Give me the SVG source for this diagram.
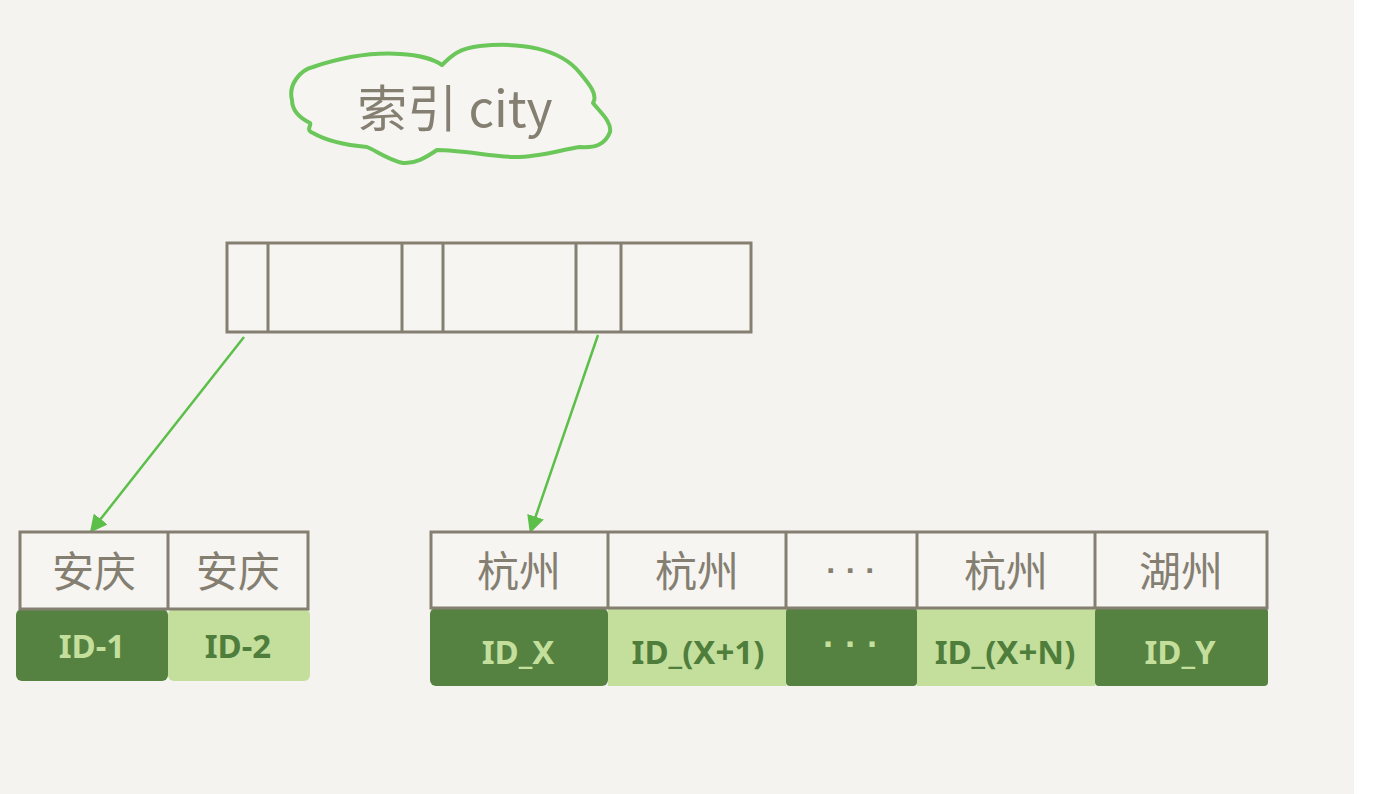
<svg xmlns="http://www.w3.org/2000/svg" width="1374" height="794" viewBox="0 0 1374 794">
<style>
.cell{fill:#f6f5f1;stroke:#857f72;stroke-width:3}
.div{stroke:#857f72;stroke-width:3}
.city{font-family:"Noto Sans CJK SC","Noto Sans",sans-serif;font-size:42px;fill:#857f72;text-anchor:middle}
.id{font-family:"Noto Sans","Liberation Sans",sans-serif;font-weight:bold;font-size:33px;text-anchor:middle}
.dots{font-family:"Liberation Sans",sans-serif;text-anchor:middle;font-weight:bold}
.dk{fill:#558241}
.lt{fill:#c4df9c}
.tdk{fill:#c4df9c}
.tlt{fill:#4f7d3c}
.conn{stroke:#5cbf4a;stroke-width:2.5;fill:none}
</style>
<defs>
<marker id="ah" viewBox="0 0 10 10" refX="8" refY="5" markerWidth="7" markerHeight="7" orient="auto" markerUnits="strokeWidth">
<path d="M0,0 L10,5 L0,10 z" fill="#5cbf4a"/>
</marker>
</defs>
<rect x="0" y="0" width="1354" height="794" fill="#f4f3ef"/>
<rect x="1354" y="0" width="20" height="794" fill="#ffffff"/>

<g id="cloud">
<path d="M292,100 C288,85 300,70 313,67 C340,58 370,52 400,54 C420,55 435,60 442,65 C452,55 460,48 480,46 C520,42 560,48 580,73 C590,85 598,95 593,103 C600,112 612,122 610,132 C605,145 595,148 580,147 C560,150 535,158 513,157 C490,156 460,150 437,150 C425,158 415,164 403,163 C388,160 375,150 367,147 C345,145 325,140 313,133 C305,130 312,125 310,123 C300,118 292,110 292,100 Z" fill="#f6f5f1" stroke="#6cc75a" stroke-width="4" stroke-linejoin="round"/>
<text x="455" y="127" font-family="Noto Sans CJK SC,Noto Sans,sans-serif" font-size="50" fill="#857f72" text-anchor="middle">索引 city</text>
</g>

<g id="index-node">
<rect x="227" y="243" width="524" height="89" class="cell"/>
<line x1="268" y1="243" x2="268" y2="332" class="div"/>
<line x1="402" y1="243" x2="402" y2="332" class="div"/>
<line x1="443" y1="243" x2="443" y2="332" class="div"/>
<line x1="576" y1="243" x2="576" y2="332" class="div"/>
<line x1="621" y1="243" x2="621" y2="332" class="div"/>
</g>

<g id="connectors">
<line x1="244" y1="337" x2="92" y2="530" class="conn" marker-end="url(#ah)"/>
<line x1="598" y1="335" x2="531" y2="530" class="conn" marker-end="url(#ah)"/>
</g>

<g id="leaf-left">
<rect x="16" y="609" width="152" height="72" rx="6" class="dk"/>
<rect x="168" y="609" width="142" height="72" rx="6" class="lt"/>
<rect x="20" y="532" width="288" height="77" class="cell"/>
<line x1="168" y1="532" x2="168" y2="609" class="div"/>
<text x="94" y="587" class="city">安庆</text>
<text x="238" y="587" class="city">安庆</text>
<text x="92" y="658" class="id tdk">ID-1</text>
<text x="238" y="658" class="id tlt">ID-2</text>
</g>

<g id="leaf-right">
<rect x="430" y="608" width="178" height="78" rx="6" class="dk"/>
<rect x="608" y="608" width="178" height="78" class="lt"/>
<rect x="786" y="608" width="131" height="78" rx="4" class="dk"/>
<rect x="917" y="608" width="178" height="78" class="lt"/>
<rect x="1095" y="608" width="173" height="78" rx="4" class="dk"/>
<rect x="431" y="532" width="836" height="76" class="cell"/>
<line x1="608" y1="532" x2="608" y2="608" class="div"/>
<line x1="786" y1="532" x2="786" y2="608" class="div"/>
<line x1="917" y1="532" x2="917" y2="608" class="div"/>
<line x1="1095" y1="532" x2="1095" y2="608" class="div"/>
<text x="519" y="587" class="city">杭州</text>
<text x="697" y="587" class="city">杭州</text>
<text x="851" y="581" class="dots" font-size="32" fill="#857f72">· · ·</text>
<text x="1006" y="587" class="city">杭州</text>
<text x="1181" y="587" class="city">湖州</text>
<text x="518" y="664" class="id tdk">ID_X</text>
<text x="698" y="664" class="id tlt">ID_(X+1)</text>
<text x="851" y="657" class="dots" font-size="36" fill="#c4df9c">· · ·</text>
<text x="1005" y="664" class="id tlt">ID_(X+N)</text>
<text x="1180" y="664" class="id tdk">ID_Y</text>
</g>
</svg>
